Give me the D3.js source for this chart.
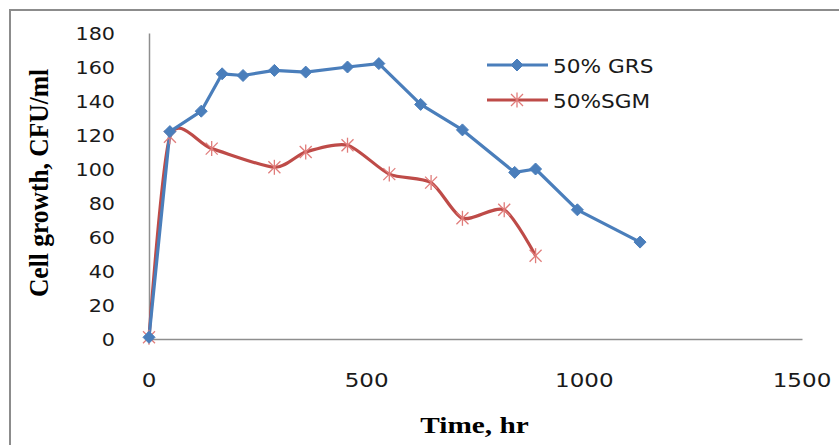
<!DOCTYPE html>
<html>
<head>
<meta charset="utf-8">
<script src="https://cdn.jsdelivr.net/npm/d3@7"></script>
<style>
  html, body { margin: 0; padding: 0; background: #fff; }
  svg { display: block; }
</style>
</head>
<body>
<svg id="chart" width="839" height="445"></svg>
<script>
// Sampling times (hr) and cell counts (CFU/ml) for each medium
const grsTime  = [0, 48, 120, 168, 216, 288, 360, 456, 528, 624, 720, 840, 888, 984, 1128];
const grsValue = [1, 122, 134, 156, 155, 158, 157, 160, 162, 138, 123, 98, 100, 76, 57];

const sgmTime  = [0, 48, 144, 288, 360, 456, 552, 648, 720, 816, 888];
const sgmValue = [1, 119, 112, 101, 110, 114, 97, 92, 71, 76, 49];

const xTicks = [0, 500, 1000, 1500];
const yTicks = [0, 20, 40, 60, 80, 100, 120, 140, 160, 180];

const seriesNames  = ["50% GRS", "50%SGM"];
const seriesColors = ["#4A7EBB", "#BE4B48"];

const svg = d3.select("#chart");

// Outer chart-area frame
svg.append("rect")
  .attr("x", 10).attr("y", 10).attr("width", 850).attr("height", 460)
  .attr("fill", "#fff").attr("stroke", "#8c8c8c").attr("stroke-width", 2);

const x = d3.scaleLinear().domain([0, 1500]).range([149, 802]);
const y = d3.scaleLinear().domain([0, 180]).range([339, 33]);

// helper: text stretched horizontally
function stretchedText(g, px, py, str, opts) {
  const t = g.append("g")
    .attr("transform", `translate(${px},${py}) scale(${opts.sx || 1},1)`)
    .append("text")
    .attr("x", 0).attr("y", 0)
    .attr("text-anchor", opts.anchor || "start")
    .attr("font-family", opts.family || "'DejaVu Sans', Verdana, sans-serif")
    .attr("font-size", opts.size)
    .attr("font-weight", opts.weight || "normal")
    .attr("fill", opts.fill || "#1a1a1a")
    .text(str);
  return t;
}

// Axes built from the scales (lines only; labels drawn separately)
const axisColor = "#8e8e8e";
const yAxis = svg.append("g").attr("transform", `translate(${x(0)},0)`)
  .call(d3.axisLeft(y).tickValues(yTicks).tickSize(0).tickFormat(""));
yAxis.select(".domain").attr("stroke", axisColor).attr("stroke-width", 1.5);

const xAxis = svg.append("g").attr("transform", `translate(0,${y(0)})`)
  .call(d3.axisBottom(x).tickValues(xTicks).tickSize(0).tickFormat(""));
xAxis.select(".domain").attr("stroke", axisColor).attr("stroke-width", 1.5);

// Tick labels
const labels = svg.append("g");
yTicks.forEach(v => {
  stretchedText(labels, 115, y(v) + 7, String(v), {size: 18.5, sx: 1.12, anchor: "end"});
});
xTicks.forEach(v => {
  stretchedText(labels, x(v), 387, String(v), {size: 20, sx: 1.15, anchor: "middle"});
});

// Axis titles
svg.append("g")
  .attr("transform", `translate(48,183) rotate(-90) scale(1,1.08)`)
  .append("text")
  .attr("text-anchor", "middle")
  .attr("font-family", "'Liberation Serif', 'Times New Roman', serif")
  .attr("font-weight", "bold")
  .attr("font-size", 25.5)
  .attr("fill", "#000")
  .text("Cell growth, CFU/ml");

stretchedText(svg, 474.5, 433, "Time, hr", {
  size: 24, sx: 1.22, anchor: "middle", weight: "bold",
  family: "'Liberation Serif', 'Times New Roman', serif", fill: "#000"
});

// Series
const grs = grsTime.map((t, i) => ({t, v: grsValue[i]}));
const sgm = sgmTime.map((t, i) => ({t, v: sgmValue[i]}));

const plot = svg.append("g");

plot.append("path")
  .datum(sgm)
  .attr("fill", "none")
  .attr("stroke", seriesColors[1])
  .attr("stroke-width", 3.2)
  .attr("stroke-linejoin", "round")
  .attr("d", d3.line().x(d => x(d.t)).y(d => y(d.v)).curve(d3.curveCardinal.tension(0.25)));

plot.append("path")
  .datum(grs)
  .attr("fill", "none")
  .attr("stroke", seriesColors[0])
  .attr("stroke-width", 3.2)
  .attr("stroke-linejoin", "round")
  .attr("d", d3.line().x(d => x(d.t)).y(d => y(d.v)));

// marker shapes
function drawStar(g, cx, cy, r) {
  const s = g.append("g").attr("transform", `translate(${cx},${cy})`)
    .attr("stroke", "#E07C7A").attr("stroke-width", 1.3).attr("fill", "none");
  s.append("line").attr("x1", -r).attr("y1", -r).attr("x2", r).attr("y2", r);
  s.append("line").attr("x1", -r).attr("y1", r).attr("x2", r).attr("y2", -r);
  s.append("line").attr("x1", 0).attr("y1", -r * 1.25).attr("x2", 0).attr("y2", r * 1.25);
}
function drawDiamond(g, cx, cy, r) {
  g.append("path")
    .attr("d", `M${cx},${cy - r}L${cx + r},${cy}L${cx},${cy + r}L${cx - r},${cy}Z`)
    .attr("fill", seriesColors[0]).attr("stroke", seriesColors[0]).attr("stroke-width", 1);
}

sgm.forEach(d => drawStar(plot, x(d.t), y(d.v), 6));
grs.forEach(d => drawDiamond(plot, x(d.t), y(d.v), 6));

// Legend
const legend = svg.append("g");
[[0, 65], [1, 100]].forEach(([i, ly]) => {
  legend.append("line")
    .attr("x1", 487).attr("x2", 548).attr("y1", ly).attr("y2", ly)
    .attr("stroke", seriesColors[i]).attr("stroke-width", 3.2);
  if (i === 0) drawDiamond(legend, 517, ly, 6);
  else drawStar(legend, 517, ly, 6);
  stretchedText(legend, 553, ly + 7.5, seriesNames[i], {size: 19.5, sx: 1.11});
});
</script>
</body>
</html>
